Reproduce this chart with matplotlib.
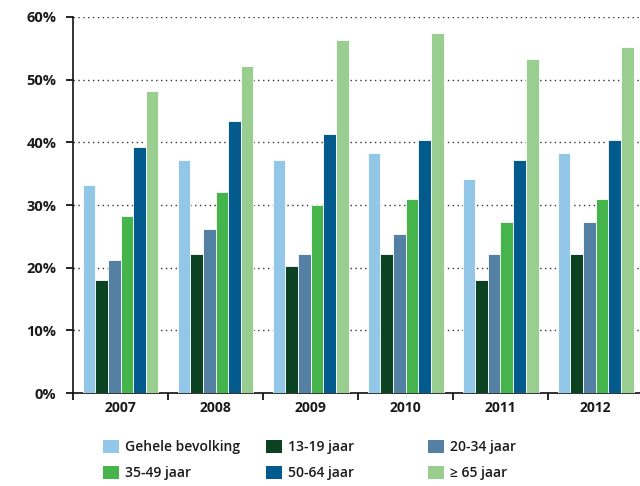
import numpy as np
import matplotlib.pyplot as plt
from matplotlib.patches import Patch

years = ["2007", "2008", "2009", "2010", "2011", "2012"]
groups = ["Gehele bevolking", "13-19 jaar", "20-34 jaar",
          "35-49 jaar", "50-64 jaar", "\u2265 65 jaar"]
colors = ["#93C7E8", "#0B4221", "#5480A4", "#45B44A", "#035A8D", "#99CE90"]

gehele = [33.2, 37.2, 37.2, 38.3, 34.1, 38.3]
j13_19 = [18.1, 22.2, 20.2, 22.2, 18.1, 22.2]
j20_34 = [21.2, 26.2, 22.2, 25.3, 22.2, 27.3]
j35_49 = [28.3, 32.1, 30.0, 31.0, 27.3, 31.0]
j50_64 = [39.2, 43.4, 41.3, 40.3, 37.2, 40.3]
j65 = [48.2, 52.2, 56.3, 57.4, 53.3, 55.2]
series = [gehele, j13_19, j20_34, j35_49, j50_64, j65]

plt.rcParams['font.family'] = ['Open Sans', 'DejaVu Sans']

fig = plt.figure(figsize=(6.4, 4.86), dpi=100)
ax = fig.add_axes([73 / 640, 1 - 393 / 486, (643 - 73) / 640, (393 - 17) / 486])

x = np.arange(len(years))
w = 0.8 / 6
for i, (vals, c) in enumerate(zip(series, colors)):
    ax.bar(x - 0.4 + w * (i + 0.5), vals, width=w, color=c,
           edgecolor="white", linewidth=0.6, zorder=3)

ax.set_ylim(0, 60)
ax.set_xlim(-0.5, 5.5)
ax.set_yticks(range(0, 61, 10))
ax.set_yticklabels([f"{v}%" for v in range(0, 61, 10)],
                   fontsize=10.5, fontweight="bold", color="#1a1a1a")
ax.yaxis.grid(True, linestyle=(0, (1, 2.5)), color="#333333", linewidth=1, zorder=0)
ax.set_axisbelow(True)

ax.set_xticks(np.arange(-0.5, 6, 1))
ax.set_xticklabels([])
ax.set_xticks(x, minor=True)
ax.set_xticklabels(years, minor=True, fontsize=10, fontweight="bold", color="#1a1a1a")
ax.tick_params(axis="x", which="minor", length=0, pad=6)
ax.tick_params(axis="x", which="major", length=5, width=1.2, direction="out")
ax.tick_params(axis="y", length=5, width=1.2, pad=7)

for s in ["top", "right"]:
    ax.spines[s].set_visible(False)
for s in ["left", "bottom"]:
    ax.spines[s].set_linewidth(1.2)
    ax.spines[s].set_color("#111111")

handles = [Patch(facecolor=c, edgecolor="none") for c in colors]
col_x = [97, 260, 422]
for k in range(3):
    hs = [handles[k], handles[k + 3]]
    ls = [groups[k], groups[k + 3]]
    leg = fig.legend(hs, ls, loc="upper left",
                     bbox_to_anchor=(col_x[k] / 640, 1 - 434 / 486),
                     frameon=False, fontsize=10, handlelength=1.15,
                     handleheight=1.15, handletextpad=0.5, labelspacing=0.82,
                     borderaxespad=0, borderpad=0.4)
    for t in leg.get_texts():
        t.set_color("#1a1a1a")
        t.set_fontweight("semibold")

fig.savefig("out.png", dpi=100)
